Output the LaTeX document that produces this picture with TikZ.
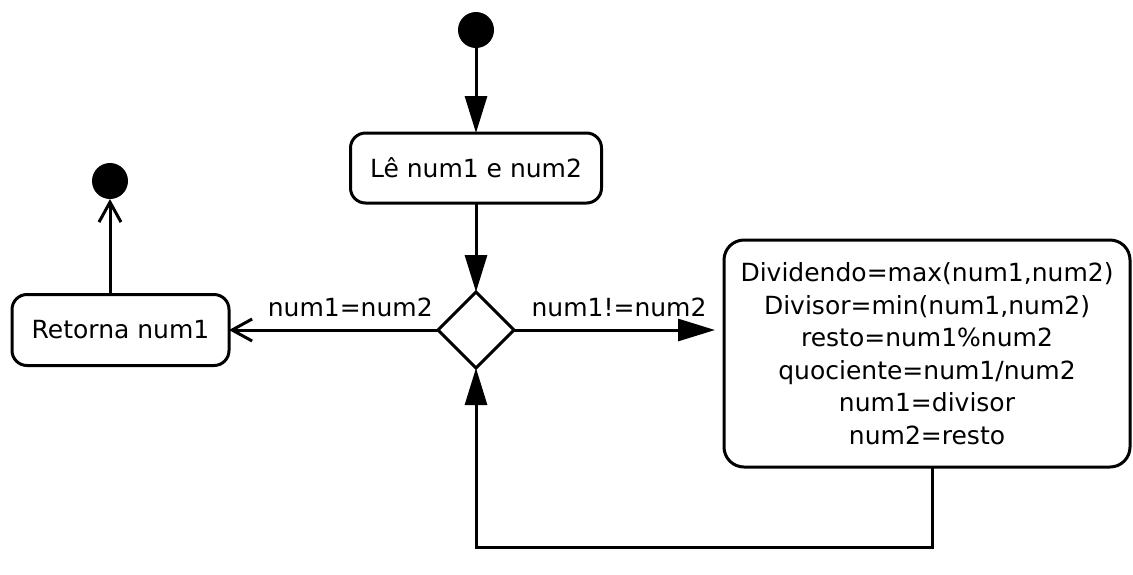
\documentclass[tikz,border=0pt]{standalone}
\usepackage{fontspec}
\setmainfont{DejaVu Sans}
\usetikzlibrary{positioning, shapes.geometric, arrows.meta}
\tikzset{
x=0.5pt, y=-0.5pt, % one unit is one pixel, y going down
every node/.style={font=\fontsize{12.5}{16.25}\selectfont, outer sep=0pt}, % text size of the activity labels
seta/.style={-{Triangle[length=18.5pt, width=11pt]}}, % big filled arrow head
setaaberta/.style={-{Straight Barb[length=10pt, width=11pt]}}, % open arrow head
inicio/.style={circle, fill, minimum size=18pt, inner sep=0pt}, % start and end dots
acao/.style={draw, rounded corners=7.5pt, align=center, inner sep=0pt}, % activity boxes
decisao/.style={diamond, draw, minimum size=38pt, inner sep=0pt}, % decision node
}
\begin{document}
\begin{tikzpicture}[line width=1.5pt]
    \useasboundingbox (0,0) rectangle (1133,574);
    \node[inicio] (ini) at (476,30) {};
    \node[acao, below=42.5pt of ini, minimum width=125.5pt, minimum height=35pt] (le) {Lê num1 e num2};
    \node[decisao, below=44.5pt of le] (dec) {};
    \node[acao, left=104.5pt of dec, minimum width=108.5pt, minimum height=35.5pt] (ret) {Retorna num1};
    \node[inicio] (fim) at (110,181) {};
    \node[acao, right=105pt of dec, yshift=-11.75pt, rounded corners=10pt,
          minimum width=203pt, minimum height=113.5pt] (calc)
        {Dividendo=max(num1,num2)\\Divisor=min(num1,num2)\\resto=num1\%num2\\quociente=num1/num2\\num1=divisor\\num2=resto};
    \draw[seta] (ini) -- (le);
    \draw[seta] (le) -- (dec);
    \draw[setaaberta] (dec.west) -- node[pos=0.42, above=3pt] {num1=num2} (ret.east);
    \draw[setaaberta] (ret.north -| fim) -- (fim);
    \draw[seta, shorten >=4.5pt] (dec.east) -- node[above=3pt] {num1!=num2} (calc.west |- dec.east);
    \draw[seta] ([xshift=2.5pt]calc.south) -- ++(0,80) -| (dec.south);
\end{tikzpicture}
\end{document}
